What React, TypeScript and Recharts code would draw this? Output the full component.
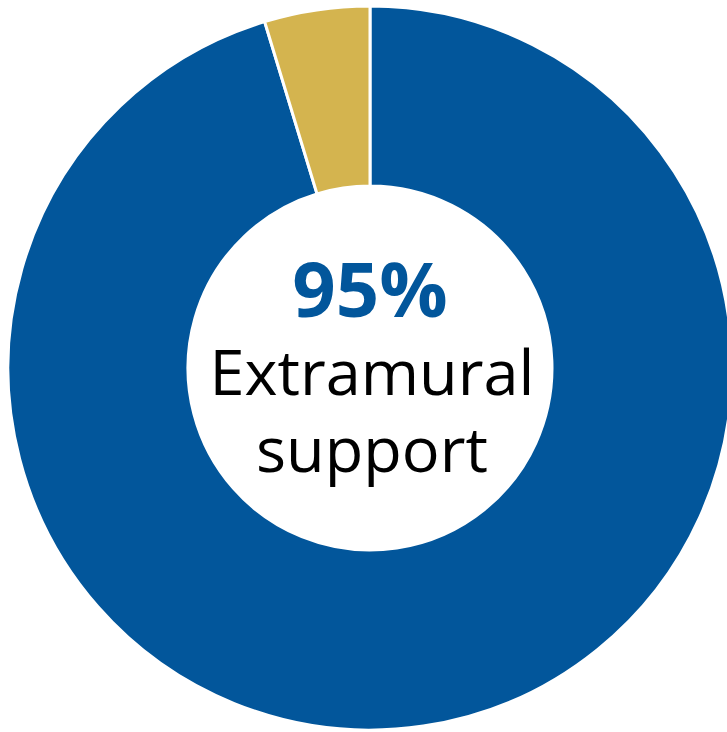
import { Cell, Label, Pie, PieChart } from "recharts";

const categories = ["Extramural support", "Other"];
const shares = [95.3, 4.7];
const colors = ["#02569b", "#d4b44f"];
const headline = "95%";
const captionLines = ["Extramural", "support"];

const data = categories.map((name, i) => ({ name, value: shares[i] }));

const CX = 370;
const CY = 368;

function CenterText() {
  return (
    <g fontFamily="'Open Sans', sans-serif" textAnchor="middle">
      <text x={CX} y={CY - 51} fontSize={76} fontWeight={700} fill="#02569b">
        {headline}
      </text>
      <text x={CX + 2} y={CY + 27} fontSize={63} fill="#000">
        {captionLines[0]}
      </text>
      <text x={CX + 2} y={CY + 104} fontSize={63} fill="#000">
        {captionLines[1]}
      </text>
    </g>
  );
}

export default function App() {
  return (
    <div style={{ position: "absolute", left: 0, top: 0, width: 727, height: 732 }}>
      <PieChart width={727} height={732} margin={{ top: 0, right: 0, bottom: 0, left: 0 }}>
        <Pie
          data={data}
          dataKey="value"
          cx={CX}
          cy={CY}
          innerRadius={182}
          outerRadius={362}
          startAngle={90}
          endAngle={-270}
          stroke="#fff"
          strokeWidth={3}
          isAnimationActive={false}
        >
          {data.map((d, i) => (
            <Cell key={d.name} fill={colors[i]} />
          ))}
          <Label content={() => <CenterText />} position="center" />
        </Pie>
      </PieChart>
    </div>
  );
}
